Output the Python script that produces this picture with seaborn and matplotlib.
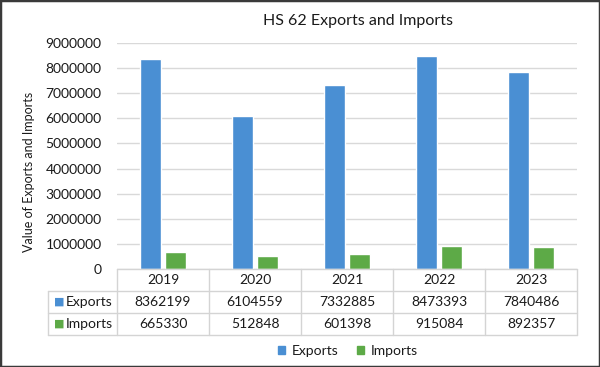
import matplotlib.pyplot as plt
import pandas as pd
import seaborn as sns
from matplotlib.patches import Rectangle

years = ["2019", "2020", "2021", "2022", "2023"]
exports = [8362199, 6104559, 7332885, 8473393, 7840486]
imports = [665330, 512848, 601398, 915084, 892357]
series = ["Exports", "Imports"]
yticks = [0, 1000000, 2000000, 3000000, 4000000, 5000000, 6000000, 7000000, 8000000, 9000000]

palette = {"Exports": "#4A8FD3", "Imports": "#5DAA47"}
text_color = "#1a1a1a"
line_color = "#d4d4d4"
fs = 10

df = pd.DataFrame({
    "Year": years * 2,
    "Series": ["Exports"] * len(years) + ["Imports"] * len(years),
    "Value": exports + imports,
})

sns.set_theme(style="white")
plt.rcParams["font.family"] = ["Lato", "DejaVu Sans"]

fig = plt.figure(figsize=(6, 3.67), dpi=100)
W, H = 600, 367
ax = fig.add_axes([117 / W, 1 - 269 / H, 460 / W, 226 / H])

sns.barplot(data=df, x="Year", y="Value", hue="Series", palette=palette,
            width=0.56, gap=0.18, ax=ax, legend=False, saturation=1)

ax.set_ylim(0, 9000000)
ax.set_xlim(-0.5, len(years) - 0.5)
ax.set_yticks(yticks)
ax.set_yticklabels([str(v) for v in yticks], fontsize=fs, color=text_color)
ax.tick_params(axis="y", length=0, pad=11)
ax.set_xticks([])
ax.set_xlabel("")
ax.set_ylabel("Value of Exports and Imports", fontsize=9, color=text_color)
ax.yaxis.set_label_coords(-(117 - 35) / 460, (269 - 172) / 226)
ax.grid(axis="y", color="#d9d9d9", linewidth=1)
ax.set_axisbelow(True)
for s in ax.spines.values():
    s.set_visible(False)

fig.text(358 / W, 1 - 21 / H, "HS 62 Exports and Imports", fontsize=11.5,
         color=text_color, ha="center", va="center")

# data table below the axis
tr = ax.get_xaxis_transform()
row_h = 22 / 226
left = -0.5 - 69 / 92
n = len(years)
ax.plot([-0.5, n - 0.5], [0, 0], color=line_color, lw=1, transform=tr, clip_on=False)
for r in (1, 2, 3):
    ax.plot([left, n - 0.5], [-r * row_h] * 2, color=line_color, lw=1,
            transform=tr, clip_on=False)
for i in range(n + 1):
    ax.plot([i - 0.5] * 2, [0, -3 * row_h], color=line_color, lw=1,
            transform=tr, clip_on=False)
ax.plot([left] * 2, [-row_h, -3 * row_h], color=line_color, lw=1,
        transform=tr, clip_on=False)

for i, y in enumerate(years):
    ax.text(i, -0.5 * row_h, y, ha="center", va="center", fontsize=fs,
            color=text_color, transform=tr)
for r, (name, vals) in enumerate(zip(series, [exports, imports]), start=1):
    yc = -(r + 0.5) * row_h
    ax.text(left + 0.06, yc, "\u25A0", ha="left", va="center", fontsize=8,
            color=palette[name], transform=tr, family=["DejaVu Sans"])
    ax.text(left + 0.19, yc, name, ha="left", va="center", fontsize=fs,
            color=text_color, transform=tr)
    for i, v in enumerate(vals):
        ax.text(i, yc, str(v), ha="center", va="center", fontsize=fs,
                color=text_color, transform=tr)

handles = [Rectangle((0, 0), 1, 1, color=palette[s]) for s in series]
fig.legend(handles, series, loc="center", bbox_to_anchor=(348 / W, 1 - 351 / H),
           ncol=2, frameon=False, fontsize=fs, handlelength=0.5, handleheight=0.5,
           handletextpad=0.5, columnspacing=1.3, labelcolor=text_color)

fig.patches.append(Rectangle((0, 0), 1, 1, transform=fig.transFigure, fill=False,
                             lw=2.5, ec="#3a3a3a"))

fig.savefig("out.png", dpi=100)
